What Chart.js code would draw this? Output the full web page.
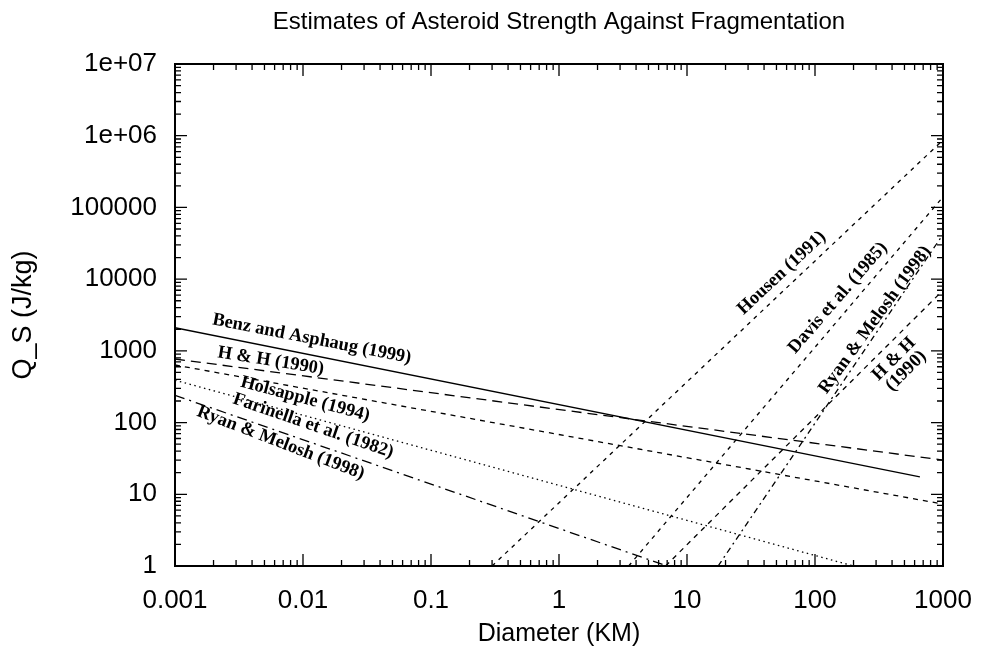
<!DOCTYPE html>
<html>
<head>
<meta charset="utf-8">
<script src="https://cdn.jsdelivr.net/npm/chart.js@4.4.0/dist/chart.umd.min.js"></script>
<style>
  html, body { margin: 0; padding: 0; background: #fff; }
  canvas { display: block; }
</style>
</head>
<body>
<canvas id="chart" width="982" height="655"></canvas>
<script>
// Axis ticks
const xTicks = [0.001, 0.01, 0.1, 1, 10, 100, 1000];
const xTickLabels = ['0.001', '0.01', '0.1', '1', '10', '100', '1000'];
const yTicks = [1, 10, 100, 1000, 1e4, 1e5, 1e6, 1e7];
const yTickLabels = ['1', '10', '100', '1000', '10000', '100000', '1e+06', '1e+07'];

// Strength regime curves (diameter km, Q_S J/kg)
const benzD = [0.001, 660];
const benzQ = [2100, 17.5];
const hhD = [0.001, 1000];
const hhQ = [770, 30];
const holsD = [0.001, 1000];
const holsQ = [635, 7.3];
const farD = [0.001, 200];
const farQ = [390, 1];
const rmD = [0.001, 7.0];
const rmQ = [240, 1];

// Gravity regime curves
const housenD = [0.3, 1000];
const housenQ = [1, 8.7e5];
const davisD = [3.5, 1000];
const davisQ = [1, 1.4e5];
const rmGravD = [17.5, 1000];
const rmGravQ = [1, 4.2e4];
const hhGravD = [6.8, 1000];
const hhGravQ = [1, 7000];

const pts = (d, q) => d.map((v, i) => ({ x: v, y: q[i] }));

function curve(d, q, dash) {
  return {
    data: pts(d, q),
    borderColor: '#000',
    borderWidth: 1.3,
    borderDash: dash,
    pointRadius: 0,
    tension: 0,
    fill: false,
  };
}

// Curve labels, anchored in data coordinates
const notes = [
  { text: ['Benz and Asphaug (1999)'], d: 0.0117, q: 1466, angle: 11 },
  { text: ['H & H (1990)'], d: 0.0056, q: 724, angle: 9 },
  { text: ['Holsapple (1994)'], d: 0.0104, q: 213, angle: 15 },
  { text: ['Farinella et al. (1982)'], d: 0.012, q: 90, angle: 19 },
  { text: ['Ryan & Melosh (1998)'], d: 0.0067, q: 52, angle: 21 },
  { text: ['Housen (1991)'], d: 55, q: 12200, angle: -43 },
  { text: ['Davis et al. (1985)'], d: 151, q: 5470, angle: -49 },
  { text: ['Ryan & Melosh (1998)'], d: 294, q: 2700, angle: -54 },
  { text: ['H & H', '(1990)'], d: 461, q: 635, angle: -45 },
];

const frame = {
  id: 'frame',
  afterDatasetsDraw(chart) {
    const { ctx, chartArea: a, scales: { x, y } } = chart;
    const minor = [2, 3, 4, 5, 6, 7, 8, 9];
    ctx.save();
    ctx.strokeStyle = '#000';
    ctx.lineWidth = 1.3;
    ctx.beginPath();
    const xt = (v, len) => {
      const px = x.getPixelForValue(v);
      ctx.moveTo(px, a.bottom); ctx.lineTo(px, a.bottom - len);
      ctx.moveTo(px, a.top); ctx.lineTo(px, a.top + len);
    };
    const yt = (v, len) => {
      const py = y.getPixelForValue(v);
      ctx.moveTo(a.left, py); ctx.lineTo(a.left + len, py);
      ctx.moveTo(a.right, py); ctx.lineTo(a.right - len, py);
    };
    xTicks.forEach((t, i) => {
      xt(t, 12);
      if (i < xTicks.length - 1) minor.forEach(m => xt(t * m, 6));
    });
    yTicks.forEach((t, i) => {
      yt(t, 12);
      if (i < yTicks.length - 1) minor.forEach(m => yt(t * m, 6));
    });
    ctx.stroke();
    ctx.lineWidth = 2;
    ctx.strokeRect(a.left, a.top, a.right - a.left, a.bottom - a.top);
    ctx.restore();
  }
};

const annotate = {
  id: 'annotate',
  afterDraw(chart) {
    const { ctx, chartArea: a, scales: { x, y } } = chart;
    ctx.save();
    ctx.fillStyle = '#000';
    ctx.textAlign = 'center';
    ctx.textBaseline = 'middle';
    ctx.font = '24px "Liberation Sans", Arial, sans-serif';
    ctx.fillText('Estimates of Asteroid Strength Against Fragmentation', (a.left + a.right) / 2, 22);
    ctx.font = 'bold 18.5px "Liberation Serif", "Times New Roman", serif';
    notes.forEach(n => {
      ctx.save();
      ctx.translate(x.getPixelForValue(n.d), y.getPixelForValue(n.q));
      ctx.rotate(n.angle * Math.PI / 180);
      const lh = 17;
      n.text.forEach((t, i) => {
        ctx.fillText(t, 0, (i - (n.text.length - 1) / 2) * lh);
      });
      ctx.restore();
    });
    ctx.restore();
  }
};

Chart.defaults.font.family = '"Liberation Sans", Arial, sans-serif';
Chart.defaults.color = '#000';

new Chart(document.getElementById('chart'), {
  type: 'line',
  data: {
    datasets: [
      curve(benzD, benzQ, []),
      curve(hhD, hhQ, [10, 6]),
      curve(holsD, holsQ, [5, 5]),
      curve(farD, farQ, [1.5, 3.5]),
      curve(rmD, rmQ, [10, 5, 2, 5]),
      curve(housenD, housenQ, [4, 5]),
      curve(davisD, davisQ, [4, 5]),
      curve(rmGravD, rmGravQ, [6, 4, 2, 4]),
      curve(hhGravD, hhGravQ, [5, 5]),
    ],
  },
  options: {
    responsive: false,
    animation: false,
    devicePixelRatio: 1,
    layout: { padding: { left: 0, right: 39, top: 64, bottom: 0 } },
    plugins: {
      legend: { display: false },
      tooltip: { enabled: false },
      title: { display: false },
    },
    scales: {
      x: {
        type: 'logarithmic',
        min: 0.001,
        max: 1000,
        grid: { display: false, drawTicks: false },
        border: { display: false },
        afterBuildTicks: s => { s.ticks = xTicks.map(v => ({ value: v })); },
        afterFit: s => { s.height = 89; s.paddingLeft = 0; s.paddingRight = 0; },
        ticks: {
          autoSkip: false,
          maxRotation: 0,
          padding: 19,
          font: { size: 26 },
          callback: (v, i) => xTickLabels[i],
        },
        title: {
          display: true,
          text: 'Diameter (KM)',
          font: { size: 25 },
          padding: { top: 0, bottom: 6 },
        },
      },
      y: {
        type: 'logarithmic',
        min: 1,
        max: 1e7,
        grid: { display: false, drawTicks: false },
        border: { display: false },
        afterBuildTicks: s => { s.ticks = yTicks.map(v => ({ value: v })); },
        afterFit: s => { s.width = 175; s.paddingTop = 0; s.paddingBottom = 0; },
        ticks: {
          autoSkip: false,
          padding: 18,
          font: { size: 26 },
          callback: (v, i) => yTickLabels[i],
        },
        title: {
          display: true,
          text: 'Q_S (J/kg)',
          font: { size: 27 },
          padding: { top: 7, bottom: 0 },
        },
      },
    },
  },
  plugins: [frame, annotate],
});
</script>
</body>
</html>
